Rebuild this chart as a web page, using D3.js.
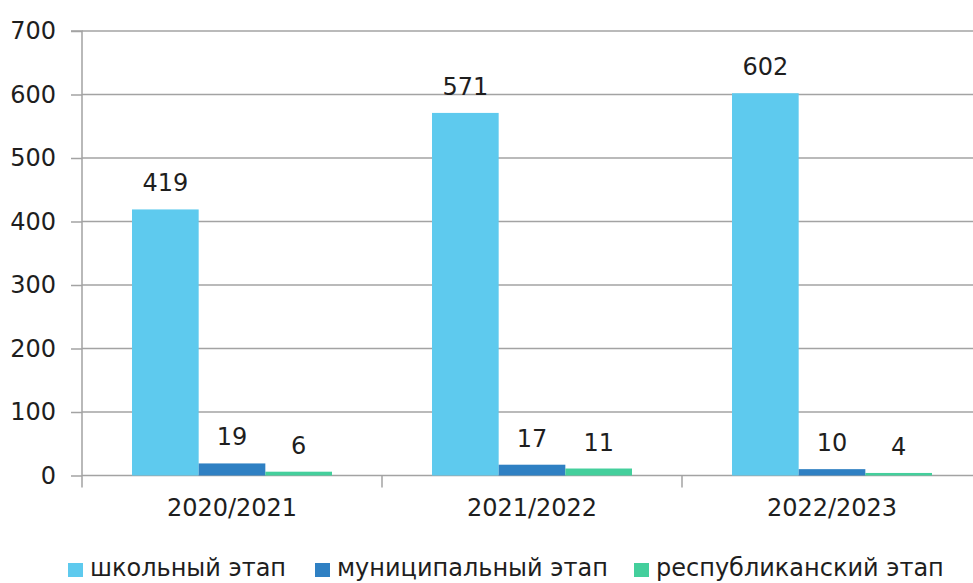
<!DOCTYPE html>
<html>
<head>
<meta charset="utf-8">
<script src="https://cdn.jsdelivr.net/npm/d3@7"></script>
<style>
  body { margin: 0; background: #fff; }
  svg { display: block; font-family: "DejaVu Sans", sans-serif; }
</style>
</head>
<body>
<svg id="chart" width="973" height="583"></svg>
<script>
const years = ["2020/2021", "2021/2022", "2022/2023"];
const stages = ["школьный этап", "муниципальный этап", "республиканский этап"];
const school = [419, 571, 602];
const municipal = [19, 17, 10];
const republic = [6, 11, 4];
const yTicks = [0, 100, 200, 300, 400, 500, 600, 700];
const colors = ["#5ecaee", "#2f80c3", "#44cf9c"];

const seriesValues = [school, municipal, republic];
const rows = years.map((year, i) => ({
    year,
    values: stages.map((s, j) => ({ stage: s, value: seriesValues[j][i] }))
}));

const svg = d3.select("#chart");
const mLeft = 82, mRight = 982, mTop = 31, mBottom = 475.5;
const fontSize = "24px";
const textColor = "#1e1e1e";

const x0 = d3.scaleBand()
    .domain(years)
    .range([mLeft, mRight])
    .padding(0);

const x1 = d3.scaleBand()
    .domain(stages)
    .range([0, x0.bandwidth()])
    .paddingInner(0)
    .paddingOuter(0.75);

const y = d3.scaleLinear()
    .domain([0, 700])
    .range([mBottom, mTop]);

const color = d3.scaleOrdinal()
    .domain(stages)
    .range(colors);

// grid lines
svg.append("g")
    .selectAll("line")
    .data(yTicks)
    .join("line")
    .attr("x1", mLeft)
    .attr("x2", 973)
    .attr("y1", d => y(d))
    .attr("y2", d => y(d))
    .attr("stroke", "#a3a3a3")
    .attr("stroke-width", 1.5);

// y axis
svg.append("g")
    .attr("transform", `translate(${mLeft},0)`)
    .call(d3.axisLeft(y).tickValues(yTicks).tickSize(11).tickPadding(15))
    .call(g => g.selectAll("path, line").attr("stroke", "#a3a3a3").attr("stroke-width", 1.5))
    .call(g => g.select(".domain").attr("d", `M-11,${mTop}H0V${mBottom + 12}`))
    .call(g => g.selectAll("text")
        .attr("fill", textColor)
        .style("font-size", fontSize)
        .style("font-family", "'DejaVu Sans', sans-serif"));

// x axis
svg.append("g")
    .attr("transform", `translate(0,${mBottom})`)
    .call(d3.axisBottom(x0).tickSize(0).tickPadding(23))
    .call(g => g.select(".domain").remove())
    .call(g => g.selectAll("text")
        .attr("fill", textColor)
        .style("font-size", fontSize)
        .style("font-family", "'DejaVu Sans', sans-serif"));

// category boundaries
svg.append("g")
    .selectAll("line")
    .data(years.slice(1))
    .join("line")
    .attr("x1", d => x0(d))
    .attr("x2", d => x0(d))
    .attr("y1", mBottom)
    .attr("y2", mBottom + 12)
    .attr("stroke", "#a3a3a3")
    .attr("stroke-width", 1.5);

// bars
const groups = svg.append("g")
    .selectAll("g")
    .data(rows)
    .join("g")
    .attr("transform", d => `translate(${x0(d.year)},0)`);

groups.selectAll("rect")
    .data(d => d.values)
    .join("rect")
    .attr("x", d => x1(d.stage))
    .attr("y", d => y(d.value))
    .attr("width", x1.bandwidth())
    .attr("height", d => y(0) - y(d.value))
    .attr("fill", d => color(d.stage));

groups.selectAll("text")
    .data(d => d.values)
    .join("text")
    .attr("x", d => x1(d.stage) + x1.bandwidth() / 2)
    .attr("y", d => y(d.value) - 18)
    .attr("text-anchor", "middle")
    .attr("fill", textColor)
    .style("font-size", fontSize)
    .text(d => d.value);

// legend
const legendX = [68, 315, 634];
const legend = svg.append("g")
    .selectAll("g")
    .data(stages)
    .join("g")
    .attr("transform", (d, i) => `translate(${legendX[i]},563)`);

legend.append("rect")
    .attr("width", 15)
    .attr("height", 14)
    .attr("fill", d => color(d));

legend.append("text")
    .attr("x", 22)
    .attr("y", 13)
    .attr("fill", textColor)
    .style("font-size", fontSize)
    .text(d => d);
</script>
</body>
</html>
